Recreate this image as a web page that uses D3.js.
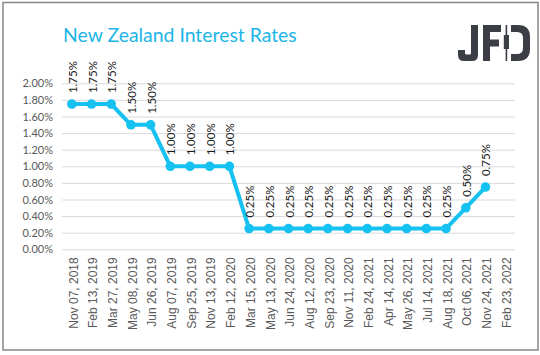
<!DOCTYPE html>
<html><head><meta charset="utf-8">
<script src="https://cdn.jsdelivr.net/npm/d3@7"></script>
<style>
html,body{margin:0;padding:0;background:#fff;}
svg{display:block;}
</style></head>
<body>
<svg id="chart" width="540" height="355"></svg>
<script>
const categories = ["Nov 07, 2018","Feb 13, 2019","Mar 27, 2019","May 08, 2019","Jun 26, 2019","Aug 07, 2019","Sep 25, 2019","Nov 13, 2019","Feb 12, 2020","Mar 15, 2020","May 13, 2020","Jun 24, 2020","Aug 12, 2020","Sep 23, 2020","Nov 11, 2020","Feb 24, 2021","Apr 14, 2021","May 26, 2021","Jul 14, 2021","Aug 18, 2021","Oct 06, 2021","Nov 24, 2021","Feb 23, 2022"];
const rates = [1.75,1.75,1.75,1.50,1.50,1.00,1.00,1.00,1.00,0.25,0.25,0.25,0.25,0.25,0.25,0.25,0.25,0.25,0.25,0.25,0.50,0.75,null];
const yTicks = [0,0.2,0.4,0.6,0.8,1.0,1.2,1.4,1.6,1.8,2.0];
const title = "New Zealand Interest Rates";

const svg = d3.select("#chart");
const W = 540, H = 355;
const m = {left:62, right:25, top:83.3, bottom:105.7};
const x = d3.scaleBand().domain(categories).range([m.left, W - m.right]);
const y = d3.scaleLinear().domain([0, 2]).range([H - m.bottom, m.top]);

// border
svg.append("rect").attr("x",3).attr("y",2.5).attr("width",535).attr("height",347.5)
  .attr("fill","#fff").attr("stroke","#878787").attr("stroke-width",1.5);

// title
svg.append("text").attr("x",63).attr("y",42).text(title)
  .attr("font-family","Lato, 'Open Sans', sans-serif").attr("font-size",19.4)
  .attr("fill","#1cb5e8");

// logo
const logo = svg.append("g").attr("transform","translate(458,25)");
const logoFill = "#3b3f45";
logo.append("path").attr("fill",logoFill)
  .attr("d","M0,25 L7,25 L7,28 Q7,29.5 8.5,29.5 L11.5,29.5 Q13,29.5 13,28 L13,0 L20,0 L20,30 Q20,36 14,36 L6,36 Q0,36 0,30 Z");
logo.append("path").attr("fill",logoFill)
  .attr("d","M25,0 L43,0 L43,7 L32,7 L32,14.5 L41,14.5 L41,21.5 L32,21.5 L32,36 L25,36 Z");
logo.append("rect").attr("fill",logoFill).attr("x",47.6).attr("y",0).attr("width",1.6).attr("height",36);
logo.append("rect").attr("fill",logoFill).attr("x",45.8).attr("y",10).attr("width",5.2).attr("height",14);
logo.append("path").attr("fill",logoFill)
  .attr("d","M53,0 L60,0 Q72,0 72,12 L72,24 Q72,36 60,36 L53,36 L53,29 L59,29 Q65,29 65,23 L65,13 Q65,7 59,7 L53,7 Z");

// gridlines + y axis
const yAxis = d3.axisLeft(y).tickValues(yTicks)
  .tickFormat(d => d.toFixed(2) + "%")
  .tickSize(-(W - m.left - m.right)).tickPadding(9);
const gy = svg.append("g").attr("transform",`translate(${m.left},0)`).call(yAxis);
gy.select(".domain").remove();
gy.selectAll(".tick line").attr("stroke","#d9d9d9").attr("stroke-width",1);
gy.selectAll(".tick text").attr("fill","#595959")
  .attr("font-family","Lato, 'Open Sans', sans-serif").attr("font-size",11);

// x axis
const xAxis = d3.axisBottom(x).tickSize(0).tickPadding(0);
const gx = svg.append("g").attr("transform",`translate(0,${H - m.bottom})`).call(xAxis);
gx.select(".domain").remove();
gx.selectAll(".tick text")
  .attr("transform","translate(1.5,0) rotate(-90)")
  .attr("x",-8).attr("y",0).attr("dy","0.35em")
  .attr("text-anchor","end")
  .attr("fill","#595959")
  .attr("font-family","'Liberation Sans', Arial, sans-serif").attr("font-size",12);

// line
const pts = categories.map((c,i) => ({c, v: rates[i]}));
const line = d3.line().defined(d => d.v != null)
  .x(d => x(d.c) + x.bandwidth()/2).y(d => y(d.v));
const lineColor = "#14c1f1";
svg.append("path").datum(pts).attr("d",line)
  .attr("fill","none").attr("stroke",lineColor).attr("stroke-width",4)
  .attr("stroke-linejoin","round");
const valid = pts.filter(d => d.v != null);
svg.selectAll("circle.pt").data(valid).enter().append("circle")
  .attr("class","pt")
  .attr("cx",d => x(d.c) + x.bandwidth()/2).attr("cy",d => y(d.v))
  .attr("r",4.8).attr("fill",lineColor);

// data labels
svg.selectAll("text.lbl").data(valid).enter().append("text")
  .attr("class","lbl")
  .attr("transform",d => `translate(${x(d.c) + x.bandwidth()/2 + 1},${y(d.v) - 11}) rotate(-90)`)
  .attr("dy","0.35em")
  .attr("text-anchor","start")
  .attr("fill","#1a1a1a")
  .attr("font-family","Lato, 'Open Sans', sans-serif").attr("font-size",11.5)
  .text(d => d.v.toFixed(2) + "%");
</script>
</body></html>
